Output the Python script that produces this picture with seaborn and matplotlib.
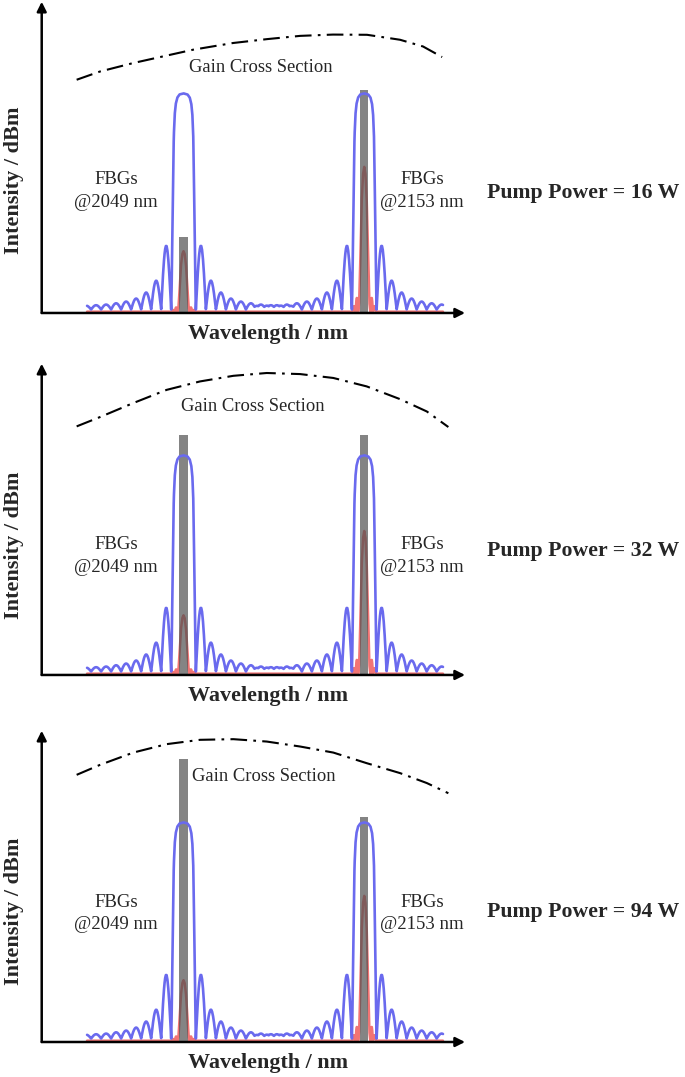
import numpy as np
import matplotlib
matplotlib.use("Agg")
import matplotlib.pyplot as plt
import seaborn as sns

# --- data -------------------------------------------------------------------
pump_power = [16, 32, 94]
fbg_centres = [2049, 2153]                 # nm
fbg_names = ["@2049 nm", "@2153 nm"]
curve_start, curve_end = 1993.5, 2198.3     # nm, where the spectra are drawn

# FBG reflection: flat-top main lobe (offset from centre in nm, normalised height)
main_lobe_offset = [0.0, 2.3, 3.6, 4.5, 5.1, 5.6, 5.9, 6.2, 6.5, 6.75, 6.95, 7.1]
main_lobe_height = [1.0, 0.995, 0.98, 0.95, 0.9, 0.8, 0.66, 0.48, 0.3, 0.15, 0.05, 0.0]
# side lobe heights, going outwards from the main lobe
side_lobe_height = [0.296, 0.134, 0.079, 0.051, 0.037, 0.029, 0.023, 0.020, 0.018, 0.017]
side_lobe_spacing = 5.76                    # nm

# laser output line (red), shape normalised to its peak
red_offset = [0.0, 0.7, 1.4, 2.0, 2.6, 2.95, 3.5]
red_shape = [1.0, 0.95, 0.78, 0.5, 0.2, 0.06, 0.0]
red_bump_offset = 4.1                       # nm, small side bumps
red_bump_height = [0.02, 0.065]             # for 2049 / 2153 nm

# per pump power: red peak heights and grey bar heights (2049, 2153)
red_peak = [[0.28, 0.67], [0.27, 0.66], [0.28, 0.67]]
laser_bar = [[0.35, 1.03], [1.11, 1.11], [1.31, 1.04]]
bar_width = 4.8

# gain cross section (dash-dot) per pump power
gain_x_16 = [1987.5, 2000.9, 2019.9, 2035.5, 2054.5, 2077.5, 2097.1, 2116.1, 2135.0, 2154.6, 2173.6, 2186.8, 2197.8]
gain_y_16 = [1.079, 1.117, 1.156, 1.184, 1.218, 1.249, 1.267, 1.282, 1.288, 1.287, 1.264, 1.233, 1.184]
gain_x_32 = [1987.5, 2000.9, 2020.1, 2039.3, 2058.5, 2077.7, 2096.9, 2116.1, 2135.2, 2154.4, 2173.6, 2189.0, 2201.4]
gain_y_32 = [1.150, 1.193, 1.258, 1.319, 1.358, 1.384, 1.397, 1.392, 1.374, 1.335, 1.276, 1.219, 1.147]
gain_x_94 = gain_x_32
gain_y_94 = [1.236, 1.282, 1.339, 1.378, 1.398, 1.401, 1.390, 1.367, 1.339, 1.290, 1.244, 1.198, 1.151]
gain_x = [gain_x_16, gain_x_32, gain_x_94]
gain_y = [gain_y_16, gain_y_32, gain_y_94]
gain_label_pos = [(2093.6, 1.134), (2089.0, 1.241), (2095.3, 1.227)]
fbg_label_y = [(0.616, 0.512), (0.602, 0.497), (0.645, 0.542)]
ylabel_y = [0.616, 0.602, 0.604]
pump_label_y = [0.556, 0.574, 0.602]

BLUE = "#6a6aee"
RED = "#f27474"
GREY = "#505050"


def arch(start, width, height, n=14):
    t = np.linspace(0, 1, n)[1:]
    return list(start + t * width), list(height * np.sin(np.pi * t))


def fbg_profile(centre):
    off, h = list(main_lobe_offset), list(main_lobe_height)
    z = main_lobe_offset[-1]
    for sh in side_lobe_height:
        ao, ah = arch(z, side_lobe_spacing, sh)
        off += ao
        h += ah
        z += side_lobe_spacing
    off, h = np.array(off), np.array(h)
    return (np.concatenate([centre - off[::-1], centre + off[1:]]),
            np.concatenate([h[::-1], h[1:]]))


def red_profile(centre, peak, bump):
    off, h = list(red_offset), list(np.array(red_shape) * peak)
    ao, ah = arch(red_bump_offset - 0.6, 1.5, bump, 8)
    off += ao
    h += ah
    ao, ah = arch(red_bump_offset + 1.2, 1.4, bump * 0.4, 8)
    off += ao
    h += ah
    off, h = np.array(off), np.array(h)
    return (np.concatenate([centre - off[::-1], centre + off[1:]]),
            np.concatenate([h[::-1], h[1:]]))


sns.set_style("white")
plt.rcParams["font.family"] = ["Liberation Serif", "DejaVu Serif"]

fig = plt.figure(figsize=(6.85, 10.77), dpi=100)
bottoms = [0.7094, 0.3733, 0.0325]
grid = np.arange(curve_start, curve_end, 0.05)

for i, pw in enumerate(pump_power):
    ax = fig.add_axes([0.0609, bottoms[i], 0.618, 0.289])
    ax.set_xlim(1967.4, 2211.0)
    ax.set_ylim(0, 1.44)
    ax.axis("off")

    # FBG reflection spectra and laser lines
    blue = np.zeros_like(grid)
    red = np.zeros_like(grid)
    for j, c in enumerate(fbg_centres):
        bx, by = fbg_profile(c)
        blue = np.maximum(blue, np.interp(grid, bx, by, left=0, right=0))
        rx, ry = red_profile(c, red_peak[i][j], red_bump_height[j])
        red = np.maximum(red, np.interp(grid, rx, ry, left=0, right=0))
    blue = blue + 0.016
    red = red + 0.006

    sns.lineplot(x=grid, y=red, ax=ax, color=RED, lw=1.8, zorder=2, sort=False)
    ax.bar(fbg_centres, laser_bar[i], width=bar_width, color=GREY, alpha=0.7,
           zorder=3, linewidth=0)
    sns.lineplot(x=grid, y=blue, ax=ax, color=BLUE, lw=1.9, zorder=4, sort=False)

    sns.lineplot(x=gain_x[i], y=gain_y[i], ax=ax, color="black", lw=1.5, sort=False)
    ax.lines[-1].set_dashes([8, 3, 1.3, 3])

    # axes with arrows
    for tip in [(1, 0), (0, 1)]:
        ax.annotate("", xy=tip, xytext=(0, 0), xycoords="axes fraction",
                    arrowprops=dict(arrowstyle="-|>", lw=1.8, color="black",
                                    mutation_scale=14, shrinkA=0, shrinkB=0))

    gx, gy = gain_label_pos[i]
    ax.text(gx, gy, "Gain Cross Section", ha="center", va="center", fontsize=13.4)
    for cx, name in zip([2010.2, 2186.3], fbg_names):
        ax.text(cx, fbg_label_y[i][0], "FBGs", ha="center", va="center", fontsize=13.5)
        ax.text(cx, fbg_label_y[i][1], name, ha="center", va="center", fontsize=13.5)

    ax.text(2097.6, -0.097, "Wavelength / nm", ha="center", va="center",
            fontsize=15.9, fontweight="bold", clip_on=False)
    ax.text(1951.5, ylabel_y[i], "Intensity / dBm", ha="center", va="center",
            rotation=90, fontsize=16, fontweight="bold", clip_on=False)
    ax.text(2278.9, pump_label_y[i], f"Pump Power = {pw} W", ha="center",
            va="center", fontsize=15.7, fontweight="bold", clip_on=False)

fig.savefig("out.png", dpi=100)
